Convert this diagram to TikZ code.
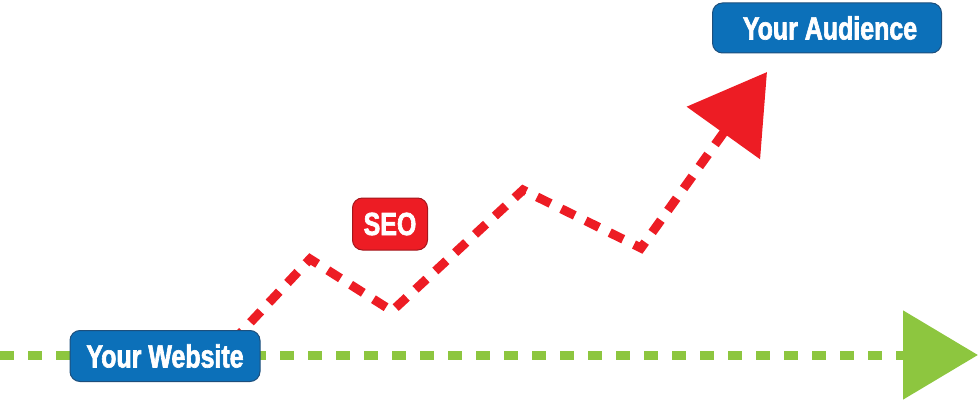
\documentclass[tikz,border=0pt]{standalone}
\usepackage{fontspec}
\newfontfamily\labelfont[FakeStretch=0.78,FakeBold=2]{Liberation Sans}
\usetikzlibrary{positioning, arrows.meta}

\definecolor{seogreen}{HTML}{8DC63F}
\definecolor{seored}{HTML}{ED1C24}
\definecolor{seoredline}{HTML}{A3161C}
\definecolor{boxblue}{HTML}{0C70B9}
\definecolor{boxblueline}{HTML}{1D4F7C}

\begin{document}
\begin{tikzpicture}[x=1pt, y=-1pt,
				greenline/.style={line width=9pt, seogreen, dash pattern=on 14pt off 14pt,
					-{Triangle[length=75pt,width=87pt]}},
				redline/.style={line width=9pt, seored, dash pattern=on 15pt off 12pt,
					-{Triangle[length=75pt,width=88pt]}},
				label/.style={rounded corners=10pt, line width=1pt, inner sep=0pt,
					text=white, font=\labelfont\bfseries\fontsize{32}{32}\selectfont},
				bluebox/.style={label, fill=boxblue, draw=boxblueline},
				redbox/.style={label, fill=seored, draw=seoredline}]
				
				\useasboundingbox (0,0) rectangle (980,401);
				
				% baseline traffic
				\coordinate (gstart) at (0,355);
				\coordinate (gend) at (978,355);
				\draw[greenline] (gstart) -- (gend);
				
				% seo path
				\coordinate (rstart) at (232,342);
				\coordinate (r1) at (310,259);
				\coordinate (r2) at (392,311);
				\coordinate (r3) at (523,190);
				\coordinate (r4) at (641,248);
				\coordinate (rtip) at (767,72);
				\draw[redline] (rstart) -- (r1) -- (r2) -- (r3) -- (r4) -- (rtip);
				
				\node[bluebox, minimum width=190pt, minimum height=51pt] (website) at (165,356) {Your Website};
				\node[bluebox, minimum width=229pt, minimum height=50pt] (audience) at (827,28) {\hspace{6pt}Your Audience};
				\node[redbox, minimum width=75pt, minimum height=52pt] (seo) at (390,224) {SEO};
			\end{tikzpicture}
\end{document}
